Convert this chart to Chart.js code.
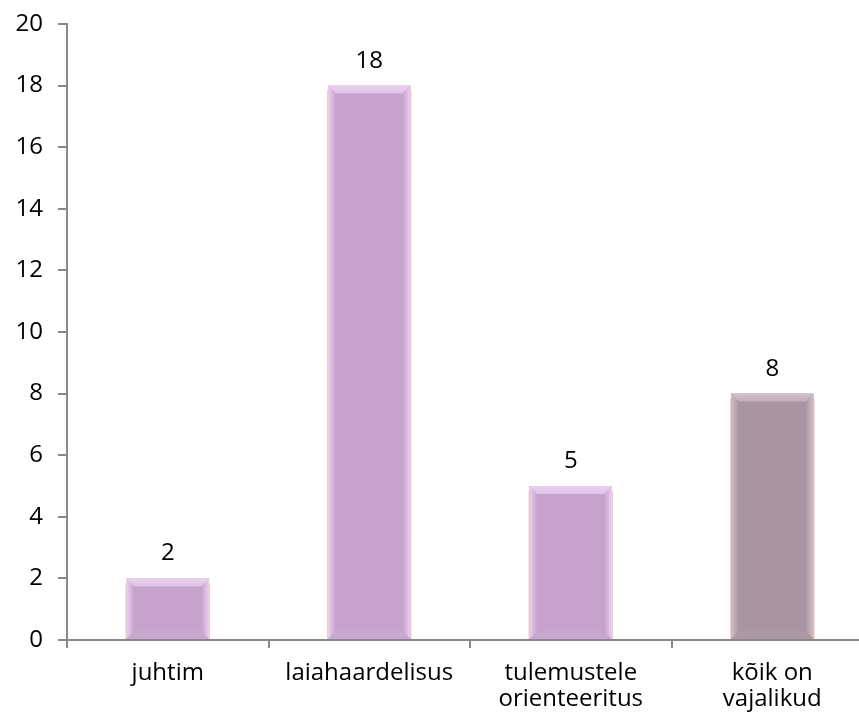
<!DOCTYPE html>
<html>
<head>
<meta charset="utf-8">
<script src="https://cdn.jsdelivr.net/npm/chart.js@4"></script>
<style>
html,body{margin:0;padding:0;overflow:hidden;background:#fff;width:859px;height:717px;}
#wrap{position:absolute;left:0;top:0;width:873px;height:717px;}
</style>
</head>
<body>
<div id="wrap"><canvas id="c" width="873" height="717"></canvas></div>
<script>
const categories = ["juhtim", ["laiahaardelisus"], ["tulemustele", "orienteeritus"], ["kõik on", "vajalikud"]];
const values = [2, 18, 5, 8];
const barColors = ["#C6A2CC", "#C6A2CC", "#C6A2CC", "#A8959F"];
const bevelEdge = ["#EDCFF2", "#EDCFF2", "#EDCFF2", "#D2C0CA"];
const bevelTop = ["#E0C2E6", "#E0C2E6", "#E0C2E6", "#C2AEBA"];
const bevelBottom = ["#CAA7D0", "#CAA7D0", "#CAA7D0", "#AC99A3"];
const yTicks = [0, 2, 4, 6, 8, 10, 12, 14, 16, 18, 20];

const FONT = "Open Sans";
const FSIZE = 24;

const bevelPlugin = {
  id: 'bevel',
  afterDatasetsDraw(chart) {
    const ctx = chart.ctx;
    const meta = chart.getDatasetMeta(0);
    meta.data.forEach((bar, i) => {
      const w = bar.width;
      const l = bar.x - w / 2, r = bar.x + w / 2, t = bar.y, b = bar.base;
      const d = 8;
      ctx.save();
      ctx.strokeStyle = "rgba(215,165,125,0.5)";
      ctx.lineWidth = 1;
      ctx.beginPath();
      ctx.moveTo(l - 0.5, t + 5); ctx.lineTo(l - 0.5, b);
      ctx.moveTo(r + 0.5, t + 5); ctx.lineTo(r + 0.5, b);
      ctx.stroke();
      ctx.fillStyle = bevelBottom[i];
      ctx.beginPath();
      ctx.moveTo(l, b); ctx.lineTo(l + d, b - d); ctx.lineTo(r - d, b - d); ctx.lineTo(r, b); ctx.closePath(); ctx.fill();
      let g = ctx.createLinearGradient(l, 0, l + d, 0);
      g.addColorStop(0, bevelEdge[i]); g.addColorStop(1, barColors[i]);
      ctx.fillStyle = g;
      ctx.beginPath();
      ctx.moveTo(l, t); ctx.lineTo(l + d, t + d); ctx.lineTo(l + d, b - d); ctx.lineTo(l, b); ctx.closePath(); ctx.fill();
      g = ctx.createLinearGradient(r, 0, r - d, 0);
      g.addColorStop(0, bevelEdge[i]); g.addColorStop(1, barColors[i]);
      ctx.fillStyle = g;
      ctx.beginPath();
      ctx.moveTo(r, t); ctx.lineTo(r - d, t + d); ctx.lineTo(r - d, b - d); ctx.lineTo(r, b); ctx.closePath(); ctx.fill();
      g = ctx.createLinearGradient(0, t, 0, t + d);
      g.addColorStop(0, bevelEdge[i]); g.addColorStop(1, bevelTop[i]);
      ctx.fillStyle = g;
      ctx.beginPath();
      ctx.moveTo(l, t); ctx.lineTo(r, t); ctx.lineTo(r - d, t + d); ctx.lineTo(l + d, t + d); ctx.closePath(); ctx.fill();
      ctx.fillStyle = "#000";
      ctx.font = FSIZE + "px '" + FONT + "'";
      ctx.textAlign = "center";
      ctx.textBaseline = "alphabetic";
      ctx.fillText(String(values[i]), bar.x, t - 18);
      ctx.restore();
    });
  }
};

new Chart(document.getElementById('c'), {
  type: 'bar',
  data: {
    labels: categories,
    datasets: [{
      data: values,
      backgroundColor: barColors,
      borderWidth: 0,
      barPercentage: 1,
      categoryPercentage: 0.41
    }]
  },
  options: {
    responsive: false,
    animation: false,
    events: [],
    layout: { padding: { top: 24, right: 0, left: 0, bottom: 0 } },
    plugins: { legend: { display: false }, tooltip: { enabled: false } },
    scales: {
      x: {
        grid: { display: true, drawOnChartArea: false, offset: true, tickLength: 8, color: "#888888", lineWidth: 2 },
        border: { display: true, color: "#888888", width: 2 },
        ticks: { color: "#000", font: { family: FONT, size: FSIZE, lineHeight: 1.05 }, padding: 13, maxRotation: 0, autoSkip: false },
        afterFit(scale) { scale.height = 77; scale.paddingLeft = 0; scale.paddingRight = 0; }
      },
      y: {
        min: 0, max: 20,
        afterBuildTicks(scale) { scale.ticks = yTicks.map(v => ({ value: v })); },
        grid: { display: true, drawOnChartArea: false, tickLength: 9, color: "#888888", lineWidth: 2 },
        border: { display: true, color: "#888888", width: 2 },
        ticks: { color: "#000", font: { family: FONT, size: FSIZE }, padding: 15 },
        afterFit(scale) { scale.width = 67; scale.paddingTop = 0; scale.paddingBottom = 0; }
      }
    }
  },
  plugins: [bevelPlugin]
});
</script>
</body>
</html>
